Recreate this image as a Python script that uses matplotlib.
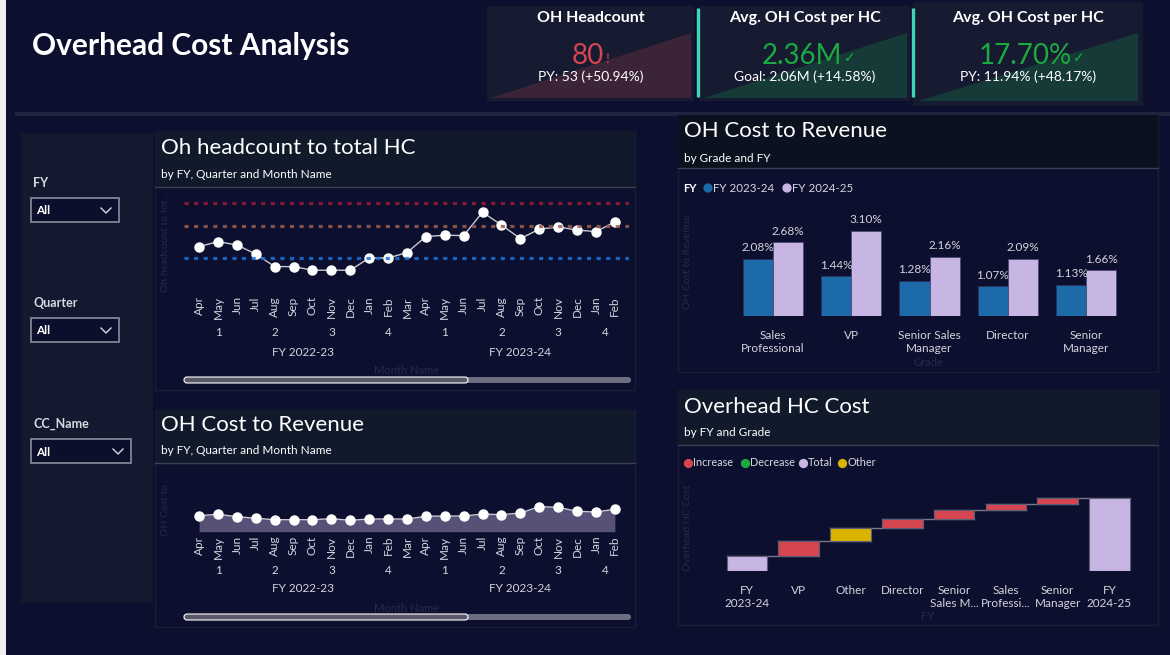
import matplotlib
matplotlib.use("Agg")
import matplotlib.pyplot as plt
import matplotlib.transforms as mtransforms
from matplotlib.patches import Rectangle, Polygon, FancyBboxPatch
import numpy as np

plt.rcParams["font.family"] = ["Lato", "DejaVu Sans"]

W, H = 1170, 655

# данные
months = ["Apr", "May", "Jun", "Jul", "Aug", "Sep", "Oct", "Nov", "Dec", "Jan", "Feb", "Mar",
          "Apr", "May", "Jun", "Jul", "Aug", "Sep", "Oct", "Nov", "Dec", "Jan", "Feb"]
quarters = ["1", "2", "3", "4", "1", "2", "3", "4"]
quarter_months = [3, 3, 3, 3, 3, 3, 3, 2]
fy_names = ["FY 2022-23", "FY 2023-24"]
fy_months = [12, 11]

oh_hc_ratio = [6.57, 6.82, 6.65, 6.20, 5.57, 5.57, 5.39, 5.39, 5.39, 6.00, 6.00, 6.27,
               7.07, 7.14, 7.12, 8.29, 7.65, 6.97, 7.44, 7.55, 7.40, 7.32, 7.80]
ref_lines = [8.74, 7.62, 6.00]

oh_cost_rev = [1.92, 2.09, 1.80, 1.61, 1.44, 1.44, 1.44, 1.56, 1.37, 1.52, 1.52, 1.52,
               1.85, 1.88, 1.88, 2.12, 2.04, 2.24, 3.00, 2.93, 2.45, 2.36, 2.69]

grades = ["Sales\nProfessional", "VP", "Senior Sales\nManager", "Director", "Senior\nManager"]
rev_fy2324 = [2.08, 1.44, 1.28, 1.07, 1.13]
rev_fy2425 = [2.68, 3.10, 2.16, 2.09, 1.66]

wf_labels = ["FY\n2023-24", "VP", "Other", "Director", "Senior\nSales M...",
             "Sales\nProfessi...", "Senior\nManager", "FY\n2024-25"]
wf_start = 36.8
wf_steps = [38.3, 31.0, 24.0, 21.8, 15.0, 14.3]
wf_kinds = ["Increase", "Other", "Increase", "Increase", "Increase", "Increase"]
wf_legend = ["Increase", "Decrease", "Total", "Other"]

kpi_titles = ["OH Headcount", "Avg. OH Cost per HC", "Avg. OH Cost per HC"]
kpi_values = ["80", "2.36M", "17.70%"]
kpi_marks = ["!", "✓", "✓"]
kpi_sub = ["PY: 53 (+50.94%)", "Goal: 2.06M (+14.58%)", "PY: 11.94% (+48.17%)"]

slicers = ["FY", "Quarter", "CC_Name"]

# цвета
page = "#0d0f2f"
blue = "#1c6ba8"
lilac = "#c7b6e4"
red = "#d64550"
green = "#1aab40"
gold = "#d9b300"
txt = "#d4d4dc"
faint = "#262a48"
kind_colors = {"Increase": red, "Decrease": green, "Total": lilac, "Other": gold}

fig = plt.figure(figsize=(W / 100, H / 100), dpi=100, facecolor=page)
bg = fig.add_axes([0, 0, 1, 1])
bg.set_xlim(0, W)
bg.set_ylim(H, 0)
bg.axis("off")


def rect(x0, y0, x1, y1, **kw):
    bg.add_patch(Rectangle((x0, y0), x1 - x0, y1 - y0, **kw))


def px_axes(x0, y0, x1, y1):
    a = fig.add_axes([x0 / W, 1 - y1 / H, (x1 - x0) / W, (y1 - y0) / H])
    a.set_facecolor("none")
    for s in a.spines.values():
        s.set_visible(False)
    a.set_yticks([])
    return a


# фон и шапка
rect(0, 0, 6, H, fc="#f0f0f0", lw=0)
rect(15, 112, W, 116, fc="#20243f", lw=0)
bg.text(32, 46, "Overhead Cost Analysis", color="white", fontsize=21.5, fontweight="bold",
        va="center", ha="left")

# KPI карточки
cards = [(487, 6, 694, 101), (700, 6, 910, 101), (915, 4, 1141, 104)]
tri_colors = ["#3b2438", "#163a37", "#163a37"]
val_colors = [red, green, green]
rect(913, 2, 1143, 106, fc="#141a30", lw=0)
for i, (x0, y0, x1, y1) in enumerate(cards):
    rect(x0, y0, x1, y1, fc="#161b32", lw=0)
    bg.add_patch(Polygon([(x0 + 4, y1 - 3), (x1 - 3, 33), (x1 - 3, y1 - 3)],
                         closed=True, fc=tri_colors[i], lw=0))
    cx = (x0 + x1) / 2
    bg.text(cx, 18, kpi_titles[i], color="white", fontsize=11.5, fontweight="bold",
            ha="center", va="center")
    t = bg.text(cx - 3, 56, kpi_values[i], color=val_colors[i], fontsize=20,
                ha="center", va="center")
    bg.annotate(kpi_marks[i], xy=(1, 0.4), xycoords=t, xytext=(1, 0),
                textcoords="offset points", color=val_colors[i], fontsize=10,
                ha="left", va="center")
    bg.text(cx, 77, kpi_sub[i], color="white", fontsize=10, ha="center", va="center")
for x in (697.5, 912.5):
    bg.plot([x, x], [8, 97], color="#3fd6b5", lw=2.4, solid_capstyle="butt")

# слайсеры
rect(21, 133, 153, 603, fc="#131a2f", lw=0)
slicer_y = [183, 303, 424]
slicer_w = [88, 88, 100]
for name, y, w in zip(slicers, slicer_y, slicer_w):
    bg.text(33, y, name, color="#d8d8e0", fontsize=9, fontweight="bold", va="center")
    rect(31, y + 15, 31 + w, y + 39, fc="#0c0f2c", ec="#8a8e9e", lw=1.2)
    bg.text(36, y + 28, "All", color="white", fontsize=8.5, fontweight="bold", va="center")
    cx = 31 + w - 13
    bg.plot([cx - 5, cx, cx + 5], [y + 25, y + 30, y + 25], color="#d8d8e0", lw=1)


def panel(x0, y0, x1, y1, yh, head_fc, title, sub, title_y, sub_y):
    rect(x0, y0, x1, y1, fc=page, ec="#181d36", lw=1)
    rect(x0, y0, x1, yh, fc=head_fc, lw=0)
    bg.plot([x0, x1], [yh, yh], color="#3b4154", lw=1)
    bg.text(x0 + 6, title_y, title, color="white", fontsize=16, va="center")
    bg.text(x0 + 6, sub_y, sub, color="white", fontsize=8.5, va="center")


def scrollbar(y):
    bg.add_patch(FancyBboxPatch((184, y - 3), 447, 6, boxstyle="round,pad=0,rounding_size=3",
                                fc="#6e6e82", lw=0))
    bg.add_patch(FancyBboxPatch((184, y - 3), 284, 6, boxstyle="round,pad=0,rounding_size=3",
                                fc="#5a5a6c", ec="white", lw=0.8))


def period_labels(ax, yq, yfy):
    tr = mtransforms.blended_transform_factory(ax.transData, bg.transData)
    pos = 0
    for q, n in zip(quarters, quarter_months):
        ax.text(pos + (n - 1) / 2, yq, q, transform=tr, color=txt, fontsize=8.5,
                ha="center", va="center")
        pos += n
    pos = 0
    for f, n in zip(fy_names, fy_months):
        ax.text(pos + (n - 1) / 2, yfy, f, transform=tr, color=txt, fontsize=8.5,
                ha="center", va="center")
        pos += n


xm = np.arange(len(months))

# график 1: Oh headcount to total HC
panel(155, 131, 635, 390, 187, "#111a2b", "Oh headcount to total HC",
      "by FY, Quarter and Month Name", 148, 175)
ax1 = px_axes(184, 190, 629, 288)
for v, c in zip(ref_lines, ["#9a1c34", "#9a5e4e", "#1a72dc"]):
    ax1.axhline(v, color=c, lw=2.3, ls=(0, (1.3, 1.7)), zorder=3, alpha=0.85)
ax1.plot(xm, oh_hc_ratio, color="#c9c9d3", lw=1, marker="o", ms=6.5, mfc="white",
         mec="white", zorder=2)
ax1.set_xlim(-0.8, 22.75)
ax1.set_ylim(4.5, 9.4)
ax1.set_xticks(xm)
ax1.set_xticklabels(months, rotation=90)
ax1.tick_params(axis="x", length=0, pad=6, colors=txt, labelsize=8.5)
period_labels(ax1, 333, 352)
bg.text(407, 371, "Month Name", color=faint, fontsize=8, ha="center", va="center")
bg.text(166, 242, "Oh headcount to tot...", color=faint, fontsize=7.5, rotation=90,
        ha="center", va="center")
scrollbar(380)

# график 2: OH Cost to Revenue по месяцам
panel(155, 410, 635, 627, 463, "#111a2b", "OH Cost to Revenue",
      "by FY, Quarter and Month Name", 425, 450)
ax2 = px_axes(184, 475, 629, 531.7)
ax2.fill_between(xm, oh_cost_rev, 0, color="#565277", lw=0)
ax2.plot(xm, oh_cost_rev, color="#c9c9d3", lw=1, marker="o", ms=6.5, mfc="white", mec="white")
ax2.set_xlim(-0.8, 22.75)
ax2.set_ylim(0, 6.8)
ax2.set_xticks(xm)
ax2.set_xticklabels(months, rotation=90)
ax2.tick_params(axis="x", length=0, pad=3, colors=txt, labelsize=8.5)
period_labels(ax2, 570, 589)
bg.text(407, 609, "Month Name", color=faint, fontsize=8, ha="center", va="center")
bg.text(166, 505, "OH Cost to ...", color=faint, fontsize=7.5, rotation=90,
        ha="center", va="center")
scrollbar(617)

# график 3: OH Cost to Revenue по грейдам
panel(678, 115, 1158, 372, 168, "#0b111e", "OH Cost to Revenue", "by Grade and FY", 131, 158)
bg.text(683, 188, "FY", color="white", fontsize=8, fontweight="bold", va="center")
bg.scatter([708, 787], [188, 188], s=32, c=[blue, lilac], zorder=3)
bg.text(713, 188, "FY 2023-24", color="#d8d8e0", fontsize=8.3, va="center")
bg.text(792, 188, "FY 2024-25", color="#d8d8e0", fontsize=8.3, va="center")
ax3 = px_axes(733.5, 205, 1125.5, 315.7)
xg = np.arange(len(grades))
bw = 0.383
b1 = ax3.bar(xg - bw / 2, rev_fy2324, bw, color=blue, edgecolor="#2c3262", lw=0.6)
b2 = ax3.bar(xg + bw / 2, rev_fy2425, bw, color=lilac, edgecolor="#4a4a78", lw=0.6)
for bars, vals in ((b1, rev_fy2324), (b2, rev_fy2425)):
    ax3.bar_label(bars, labels=[f"{v:.2f}%" for v in vals], padding=4, color=txt, fontsize=8.5)
ax3.set_xlim(-0.5, 4.5)
ax3.set_ylim(0, 4.05)
ax3.set_xticks(xg)
ax3.set_xticklabels(grades, linespacing=1.25)
ax3.tick_params(axis="x", length=0, pad=10, colors=txt, labelsize=8.5)
bg.text(928, 362, "Grade", color=faint, fontsize=8, ha="center", va="center")
bg.text(688, 262, "OH Cost to Revenue", color=faint, fontsize=7.5, rotation=90,
        ha="center", va="center")

# график 4: водопад Overhead HC Cost
panel(678, 390, 1158, 625, 445, "#111a2b", "Overhead HC Cost", "by FY and Grade", 407, 433)
leg_x = [688, 745, 803, 842]
for lx, name in zip(leg_x, wf_legend):
    bg.scatter([lx], [463], s=32, c=[kind_colors[name]], zorder=3)
    bg.text(lx + 5, 463, name, color="#d8d8e0", fontsize=7.8, va="center")
ax4 = px_axes(721, 480, 1135.4, 570.7)
levels = np.cumsum([wf_start] + wf_steps)
heights = [wf_start] + wf_steps + [levels[-1]]
bottoms = [0] + list(levels[:-1]) + [0]
colors = [lilac] + [kind_colors[k] for k in wf_kinds] + [lilac]
xw = np.arange(len(wf_labels))
for i, lvl in enumerate(levels):
    ax4.plot([i - 0.39, i + 1.39], [lvl, lvl], color="#7a7a8e", lw=1, zorder=1)
ax4.bar(xw, heights, 0.78, bottom=bottoms, color=colors, edgecolor="#5e5e74", lw=0.8, zorder=2)
ax4.set_xlim(-0.5, 7.5)
ax4.set_ylim(0, 226.75)
ax4.set_xticks(xw)
ax4.set_xticklabels(wf_labels, linespacing=1.25)
ax4.tick_params(axis="x", length=0, pad=10, colors=txt, labelsize=8.5)
bg.text(928, 616, "FY", color=faint, fontsize=8, ha="center", va="center")
bg.text(688, 528, "Overhead HC Cost", color=faint, fontsize=7.5, rotation=90,
        ha="center", va="center")

fig.savefig("out.png", dpi=100, facecolor=page)
